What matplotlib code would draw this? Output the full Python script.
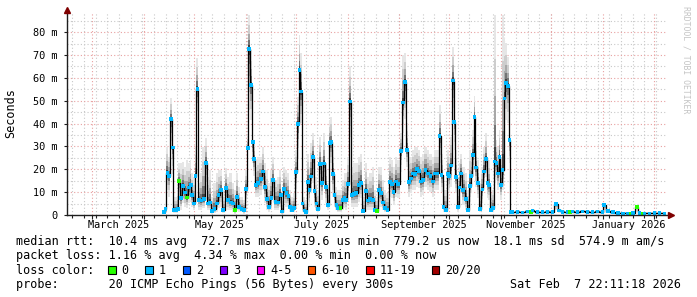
"""SmokePing style latency chart: median rtt with smoke and loss colours."""
import numpy as np
import matplotlib
matplotlib.use("Agg")
import matplotlib.pyplot as plt
from matplotlib.patches import Rectangle

# ── Data ──────────────────────────────────────────────────────────────
# x = days since 2025-03-01, values in milliseconds
BASE = np.datetime64("2025-03-01")
END_DAY = 343.92          # Sat Feb 7 22:11:18 2026
START_DAY = -15.2

days = [
    43.0, 43.8, 45.0, 46.0, 47.0, 48.2, 49.0, 50.0, 51.2, 52.0,
    53.2, 54.4, 55.6, 56.8, 57.8, 59.0, 59.8, 60.8, 61.8, 63.0,
    63.8, 65.2, 66.8, 68.0, 69.2, 70.4, 71.6, 73.2, 74.6, 75.6,
    77.0, 78.4, 80.2, 81.4, 83.0, 84.4, 85.4, 86.8, 87.8, 89.4,
    90.8, 92.0, 93.2, 94.0, 95.0, 96.2, 97.0, 98.0, 99.4, 101.0,
    102.4, 103.4, 104.6, 105.8, 107.4, 108.4, 109.8, 111.4, 113.0, 113.8,
    114.8, 116.4, 117.6, 118.6, 119.8, 120.8, 122.0, 123.2, 124.2, 125.2,
    126.0, 127.2, 128.2, 129.2, 130.2, 131.2, 132.4, 133.2, 134.4, 135.4,
    136.4, 137.6, 138.8, 140.0, 141.2, 142.4, 143.2, 144.2, 145.2, 146.4,
    147.4, 148.8, 150.0, 151.2, 152.0, 153.4, 154.6, 155.8, 157.0, 158.2,
    159.8, 161.0, 162.4, 164.0, 165.4, 166.6, 168.2, 169.4, 170.6, 172.0,
    173.0, 174.2, 175.4, 177.0, 178.4, 179.6, 180.6, 182.0, 183.4, 185.0,
    186.4, 187.4, 188.6, 189.8, 191.2, 192.4, 193.6, 194.8, 196.0, 197.2,
    198.4, 199.8, 201.2, 202.8, 204.2, 205.6, 207.0, 208.2, 209.4, 210.6,
    212.0, 213.2, 214.0, 215.2, 216.2, 217.0, 218.0, 219.2, 220.2, 221.2,
    222.4, 224.0, 225.4, 226.6, 227.2, 228.2, 229.2, 230.2, 231.4, 232.6,
    234.0, 235.0, 236.0, 237.0, 237.8, 239.2, 240.2, 241.2, 242.4, 243.4,
    244.2, 245.0, 246.0, 247.2, 248.2, 249.2, 250.2, 250.8,
    252.0, 255.0, 258.0, 261.0, 263.0, 264.0, 267.0, 270.0, 273.0, 276.0,
    278.0, 280.0, 282.0, 285.0, 286.6, 288.0, 291.0, 294.0, 297.0, 300.0,
    303.0, 306.0, 307.0, 309.0, 312.0, 315.0, 318.0, 321.0, 323.0, 324.0,
    326.6, 328.0, 329.8, 331.0, 334.0, 337.0, 340.0, 343.0,
]
median_ms = [
    1.2, 2.5, 18.5, 17.2, 42.0, 29.5, 2.2, 2.2, 2.6, 14.9,
    7.3, 12.8, 9.8, 7.7, 12.0, 13.1, 8.8, 5.1, 17.2, 55.2,
    6.6, 6.3, 6.9, 22.9, 5.1, 5.5, 1.7, 2.5, 5.1, 8.8,
    10.9, 2.2, 11.7, 6.6, 5.5, 5.1, 2.2, 8.0, 3.6, 2.6,
    2.2, 11.4, 29.2, 72.7, 56.9, 31.8, 24.5, 13.1, 13.9, 15.8,
    19.0, 12.4, 6.9, 3.6, 7.3, 15.3, 5.8, 5.4, 8.8, 1.5,
    11.4, 9.5, 8.4, 3.6, 2.2, 3.0, 18.7, 39.8, 63.5, 54.0,
    5.1, 1.9, 1.2, 14.3, 10.9, 16.8, 25.5, 10.4, 5.1, 2.5,
    22.2, 13.9, 22.6, 12.4, 4.4, 31.4, 31.8, 18.0, 8.8, 4.4,
    3.0, 3.0, 6.6, 7.3, 6.6, 13.6, 49.6, 8.8, 9.2, 9.5,
    13.1, 14.1, 1.7, 10.5, 6.3, 6.9, 6.6, 2.2, 1.7, 10.9,
    9.5, 5.4, 3.0, 2.2, 14.3, 13.6, 10.2, 14.6, 13.6, 28.0,
    49.2, 58.2, 28.5, 14.3, 16.0, 18.2, 18.0, 20.0, 19.4, 14.6,
    15.3, 19.7, 18.2, 17.2, 14.6, 18.2, 18.2, 34.6, 17.5, 3.4,
    2.2, 18.0, 17.0, 21.6, 58.8, 40.6, 16.6, 3.6, 12.1, 18.2,
    10.9, 7.0, 2.2, 12.8, 17.2, 26.3, 43.0, 20.8, 13.9, 2.5,
    11.2, 19.0, 24.5, 13.9, 13.1, 2.2, 3.2, 23.4, 22.9, 18.2,
    25.5, 13.1, 19.7, 51.0, 57.9, 56.6, 32.8, 1.2,
    1.2, 1.4, 1.1, 1.5, 1.3, 1.9, 1.3, 1.2, 1.4, 1.3,
    4.8, 2.0, 1.4, 1.2, 1.3, 1.5, 1.3, 1.6, 1.4, 1.2,
    1.5, 1.3, 4.5, 1.8, 1.3, 0.8, 0.7, 0.7, 0.7, 0.8,
    3.4, 0.8, 0.7, 0.7, 0.7, 0.8, 0.8, 0.7,
]
smoke_lo = [
    0.8, 1.2, 11.0, 8.0, 28.4, 18.0, 1.0, 1.0, 1.0, 8.0,
    2.2, 5.1, 3.6, 2.9, 5.1, 5.8, 3.6, 2.2, 8.0, 41.6,
    2.2, 2.2, 2.9, 11.0, 2.2, 2.2, 0.5, 1.0, 1.5, 3.0,
    3.6, 1.0, 3.6, 2.2, 2.2, 1.5, 0.5, 2.9, 1.5, 1.5,
    0.5, 5.1, 22.0, 46.0, 41.6, 22.7, 17.0, 8.0, 8.0, 8.8,
    11.0, 5.1, 2.2, 1.5, 2.2, 8.0, 2.2, 2.2, 3.6, 0.5,
    5.1, 3.6, 3.6, 1.5, 1.2, 1.5, 8.0, 25.0, 47.4, 40.1,
    2.2, 1.2, 0.8, 6.6, 3.6, 9.5, 13.9, 3.6, 2.2, 1.2,
    12.4, 6.6, 13.9, 5.1, 2.2, 21.1, 22.6, 8.0, 3.6, 2.2,
    1.5, 1.5, 2.2, 2.9, 2.2, 6.6, 34.3, 3.6, 3.6, 3.6,
    5.8, 7.3, 1.2, 3.6, 2.2, 2.2, 2.2, 1.2, 1.2, 3.6,
    3.6, 2.2, 1.5, 1.2, 8.0, 7.3, 4.4, 8.0, 7.3, 19.0,
    36.0, 42.0, 21.1, 8.0, 9.5, 11.0, 11.0, 12.4, 11.7, 8.0,
    8.8, 12.4, 11.0, 10.2, 8.0, 11.0, 11.0, 22.6, 10.2, 1.5,
    1.2, 11.0, 9.5, 12.4, 41.6, 28.4, 9.5, 1.5, 5.1, 10.2,
    4.4, 2.2, 1.2, 5.8, 9.5, 16.8, 28.0, 12.4, 7.3, 1.2,
    5.1, 12.4, 16.8, 7.3, 6.6, 1.2, 1.5, 13.9, 15.3, 11.0,
    16.8, 6.6, 11.0, 37.2, 41.6, 40.1, 22.6, 0.6,
    0.6, 0.7, 0.6, 0.7, 0.6, 0.8, 0.6, 0.6, 0.7, 0.6,
    2.0, 0.8, 0.7, 0.6, 0.6, 0.7, 0.6, 0.7, 0.7, 0.6,
    0.7, 0.6, 1.0, 0.8, 0.6, 0.4, 0.4, 0.4, 0.4, 0.4,
    1.2, 0.4, 0.4, 0.4, 0.4, 0.4, 0.4, 0.4,
]
smoke_hi = [
    1.8, 3.6, 29.9, 25.5, 51.1, 37.0, 8.0, 8.0, 11.0, 22.6,
    22.6, 23.3, 21.1, 24.0, 22.6, 24.0, 18.2, 16.8, 29.9, 68.6,
    13.9, 18.2, 29.9, 33.6, 16.8, 19.7, 8.0, 13.9, 18.2, 19.7,
    19.7, 8.0, 20.4, 16.8, 18.2, 13.9, 11.0, 18.2, 12.4, 8.0,
    6.6, 19.7, 35.0, 87.6, 72.0, 41.6, 32.1, 21.1, 25.5, 25.5,
    29.9, 22.6, 19.7, 13.9, 19.7, 25.5, 15.3, 16.8, 19.7, 8.0,
    21.1, 19.7, 18.2, 11.0, 8.0, 9.5, 28.4, 51.8, 78.8, 70.8,
    13.9, 8.0, 6.6, 26.9, 21.1, 31.3, 35.8, 21.1, 16.8, 11.0,
    34.3, 25.5, 35.8, 22.6, 13.9, 41.6, 43.0, 28.4, 19.7, 12.4,
    11.0, 11.0, 15.3, 18.2, 18.2, 25.5, 65.0, 21.1, 22.6, 22.6,
    25.5, 26.9, 8.0, 22.6, 16.8, 18.2, 21.1, 11.0, 8.0, 21.1,
    21.1, 15.3, 11.0, 9.5, 25.5, 24.0, 21.1, 25.5, 24.0, 35.8,
    70.0, 70.8, 40.1, 25.5, 25.5, 28.4, 29.9, 29.9, 28.4, 25.5,
    26.9, 29.9, 28.4, 26.9, 25.5, 28.4, 28.4, 48.1, 26.9, 13.9,
    11.0, 28.4, 25.5, 34.3, 73.7, 53.3, 28.4, 13.9, 22.6, 26.9,
    21.1, 18.2, 11.0, 28.4, 25.5, 37.2, 52.1, 31.3, 24.0, 11.0,
    21.1, 29.9, 35.8, 25.5, 24.0, 9.5, 11.0, 87.6, 32.8, 29.9,
    37.2, 25.5, 87.6, 77.4, 75.2, 69.3, 41.6, 2.0,
    1.9, 2.2, 1.8, 2.3, 2.0, 2.6, 2.0, 1.9, 2.1, 2.0,
    5.6, 2.8, 2.1, 1.9, 2.0, 2.2, 2.0, 2.4, 2.1, 1.9,
    2.2, 2.0, 5.0, 2.6, 2.0, 1.4, 1.3, 1.3, 1.3, 1.4,
    4.5, 1.4, 1.2, 1.3, 1.3, 1.4, 1.4, 1.3,
]
# loss colour index per sample (0 -> "0", 1 -> "1", ...)
loss_idx = [
    1, 1, 1, 1, 1, 1, 1, 1, 1, 0,
    1, 1, 1, 0, 1, 1, 1, 1, 1, 1,
    1, 1, 1, 1, 1, 1, 1, 1, 1, 1,
    1, 1, 1, 1, 1, 1, 0, 1, 1, 1,
    1, 1, 1, 1, 1, 1, 1, 1, 1, 1,
    1, 1, 1, 1, 1, 1, 1, 1, 1, 1,
    1, 1, 1, 1, 1, 1, 1, 1, 1, 1,
    1, 1, 1, 1, 1, 1, 1, 1, 1, 1,
    1, 1, 1, 1, 1, 1, 1, 1, 1, 1,
    1, 0, 1, 1, 1, 1, 1, 1, 1, 1,
    1, 1, 1, 1, 1, 1, 1, 1, 0, 1,
    1, 1, 1, 1, 1, 1, 1, 1, 1, 1,
    1, 1, 1, 1, 1, 1, 1, 1, 1, 1,
    1, 1, 1, 1, 1, 1, 1, 1, 1, 1,
    1, 1, 1, 1, 1, 1, 1, 1, 1, 1,
    1, 1, 1, 1, 1, 1, 1, 1, 1, 1,
    1, 1, 1, 1, 1, 1, 1, 1, 1, 1,
    1, 1, 1, 1, 1, 1, 1, 1,
    1, 1, 1, 1, 0, 1, 1, 1, 1, 1,
    1, 1, 1, 1, 0, 1, 1, 1, 1, 1,
    1, 1, 1, 1, 1, 1, 1, 1, 0, 1,
    0, 1, 0, 1, 1, 1, 1, 1,
]

loss_labels = ["0", "1", "2", "3", "4-5", "6-10", "11-19", "20/20"]
loss_colors = ["#26ff00", "#00b8ff", "#0059ff", "#7e00ff",
               "#ff00ff", "#ff5500", "#ff0000", "#a10000"]

stats_lines = [
    "median rtt:  10.4 ms avg  72.7 ms max  719.6 us min  779.2 us now  18.1 ms sd  574.9 m am/s",
    "packet loss: 1.16 % avg  4.34 % max  0.00 % min  0.00 % now",
    "loss color:",
    "probe:       20 ICMP Echo Pings (56 Bytes) every 300s",
]
stamp = "Sat Feb  7 22:11:18 2026"

# ── Layout ────────────────────────────────────────────────────────────
W, H = 697, 297
MONO = "DejaVu Sans Mono"
CHAR_W = 7.107            # px per glyph of DejaVu Sans Mono at 8.5 pt
AXIS_COL = "#1e1e1e"
ARROW_COL = "#7f0000"
GRID_MINOR = "#c8c8c8"
GRID_MAJOR = "#e8a0a0"

fig = plt.figure(figsize=(W / 100, H / 100), dpi=100)
fig.patch.set_facecolor("white")
ax = fig.add_axes([67 / W, 1 - 215 / H, (665.9 - 67) / W, 202 / H])
ax.set_facecolor("white")
ax.set_xlim(START_DAY, END_DAY)
ax.set_ylim(0, 88.4)
for sp in ax.spines.values():
    sp.set_visible(False)

# grid: months (red) and weeks (grey) on x, 10 ms (red) and 5 ms (grey) on y
months = np.arange("2025-02", "2026-04", dtype="datetime64[M]").astype("datetime64[D]")
month_days = (months - BASE).astype(float)
mondays = np.arange(np.datetime64("2025-02-10"), np.datetime64("2026-02-10"), 7)
week_days = (mondays - BASE).astype(float)

dots = (0, (1, 2))
for wd in week_days:
    ax.axvline(wd, color=GRID_MINOR, lw=0.8, ls=dots, zorder=1)
for v in np.arange(5, 88, 10):
    ax.axhline(v, color=GRID_MINOR, lw=0.8, ls=dots, zorder=1)
for md in month_days:
    ax.axvline(md, color=GRID_MAJOR, lw=0.8, ls=dots, zorder=1)
for v in np.arange(10, 88, 10):
    ax.axhline(v, color=GRID_MAJOR, lw=0.8, ls=dots, zorder=1)

# smoke: light at the extremes, darker close to the median
d = np.array(days)
med = np.array(median_ms)
lo = np.array(smoke_lo)
hi = np.array(smoke_hi)
layers = [(1.0, "#e6e6e6"), (0.7, "#cdcdcd"), (0.45, "#a8a8a8"),
          (0.25, "#747474"), (0.1, "#404040")]
for frac, col in layers:
    ax.fill_between(d, med - (med - lo) * frac, med + (hi - med) * frac,
                    step="mid", color=col, lw=0, zorder=2)

# median line and loss markers
ax.plot(d, med, drawstyle="steps-mid", color="black", lw=0.9, zorder=3)
ax.scatter(d, med, marker="s", s=7, c=[loss_colors[i] for i in loss_idx],
           lw=0, zorder=4)

# ticks
yt = np.arange(0, 81, 10)
ax.set_yticks(yt)
ax.set_yticklabels(["0"] + [f"{v:.0f} m" for v in yt[1:]])
ax.tick_params(axis="y", length=2, width=0.8, color=AXIS_COL, pad=4.5,
               labelsize=7.4, labelfontfamily=MONO)
ax.set_xticks(month_days[(month_days > START_DAY) & (month_days < END_DAY)])
ax.set_xticks(week_days[(week_days > START_DAY) & (week_days < END_DAY)], minor=True)
ax.set_xticklabels([])
ax.tick_params(axis="x", which="major", length=3, width=0.8, color=AXIS_COL)
ax.tick_params(axis="x", which="minor", length=2, width=0.8, color=AXIS_COL)

# month labels centred in the middle of every second month
for i in range(1, len(months) - 1, 2):
    mid = (month_days[i] + month_days[i + 1]) / 2
    if mid > END_DAY:
        break
    name = months[i].astype(object).strftime("%B %Y")
    ax.text(mid, -9.5 / 202, name, transform=ax.get_xaxis_transform(),
            ha="center", va="center", fontsize=7.4, family=MONO, color="black")

# axes with arrows
ax.plot([0, 1.006], [0, 0], transform=ax.transAxes, color=AXIS_COL, lw=1,
        clip_on=False, zorder=5)
ax.plot([0, 0], [0, 1.01], transform=ax.transAxes, color=AXIS_COL, lw=1,
        clip_on=False, zorder=5)
ax.plot([1.0085], [0], transform=ax.transAxes, marker=">", ms=4.5,
        color=ARROW_COL, clip_on=False, zorder=6)
ax.plot([0], [1.013], transform=ax.transAxes, marker="^", ms=4.5,
        color=ARROW_COL, clip_on=False, zorder=6)

# labels
fig.text(10.8 / W, 1 - 113.5 / H, "Seconds", rotation=90, ha="center",
         va="center", fontsize=8.5, family=MONO)
fig.text(686 / W, 1 - 60 / H, "RRDTOOL / TOBI OETIKER", rotation=270,
         ha="center", va="center", fontsize=5.9, family=MONO, color="#c4c4c4")

line_y = [241, 255.5, 270, 284.3]
for txt, y in zip(stats_lines, line_y):
    fig.text(16 / W, 1 - y / H, txt, ha="left", va="center", fontsize=8.5,
             family=MONO)
fig.text(680.5 / W, 1 - line_y[3] / H, stamp, ha="right", va="center",
         fontsize=8.5, family=MONO)

# loss colour legend, laid out left to right like rrdtool does
bx = 108.3
for col, lab in zip(loss_colors, loss_labels):
    fig.patches.append(Rectangle((bx / W, 1 - (line_y[2] + 3.6) / H), 7.3 / W, 7.2 / H,
                                 transform=fig.transFigure, facecolor=col,
                                 edgecolor="black", lw=0.8))
    fig.text((bx + 13.3) / W, 1 - line_y[2] / H, lab, ha="left", va="center",
             fontsize=8.5, family=MONO)
    bx += 13.3 + len(lab) * CHAR_W + 16.7

fig.savefig("out.png", dpi=100, facecolor="white")
